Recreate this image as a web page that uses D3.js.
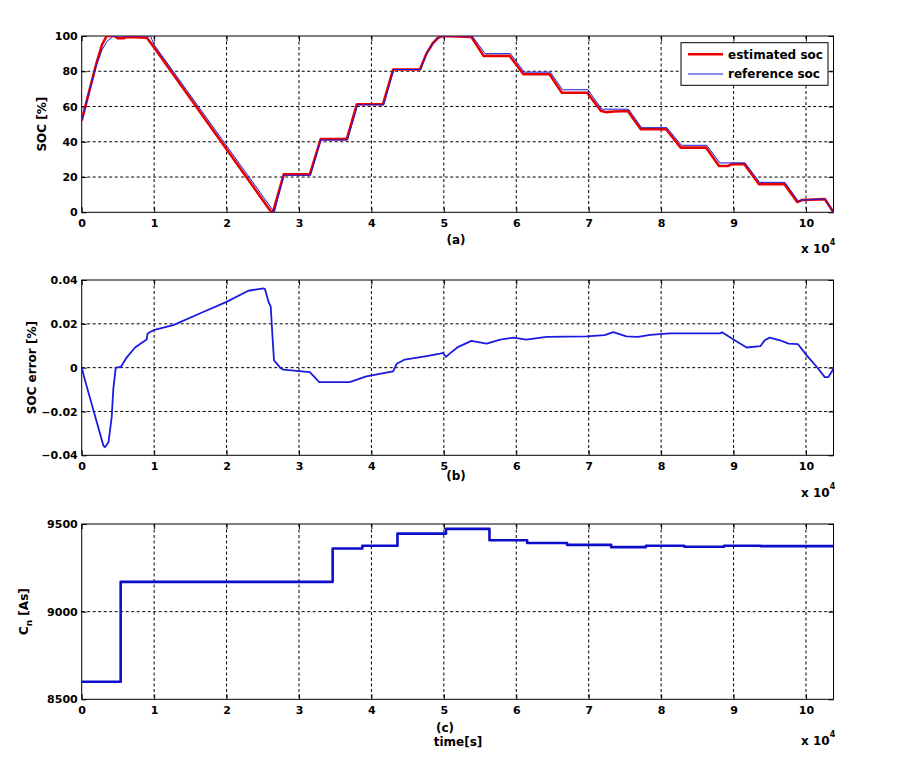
<!DOCTYPE html>
<html>
<head>
<meta charset="utf-8">
<script src="https://cdn.jsdelivr.net/npm/d3@7"></script>
<style>
  body { margin: 0; background: #fff; }
  text { font-family: "DejaVu Sans", sans-serif; font-weight: bold; fill: #000; }
</style>
</head>
<body>
<div id="chart"></div>
<script>
// time in units of 10^4 s
var x_ticks = [0, 1, 2, 3, 4, 5, 6, 7, 8, 9, 10];
var t_max = 10.38;

// (a) estimated soc (red)
var est_t = [0, 0.1, 0.2, 0.28, 0.345, 0.45, 0.5, 0.58, 0.62, 0.9, 1.0, 2.62, 2.64, 2.79, 3.15, 3.30, 3.66, 3.80, 4.16, 4.30, 4.67, 4.76, 4.85, 4.92, 4.98, 5.38, 5.55, 5.91, 6.10, 6.46, 6.63, 6.98, 7.17, 7.25, 7.35, 7.54, 7.72, 8.07, 8.27, 8.62, 8.80, 8.92, 8.98, 9.15, 9.35, 9.70, 9.88, 9.95, 10.26, 10.38];
var est_soc = [52, 68, 84, 95, 100, 100, 98.7, 98.7, 99.5, 99, 93.5, 0, 0, 21.5, 21.5, 41.5, 41.5, 61.3, 61.3, 81, 81, 90, 96, 99, 100, 99.5, 88.7, 88.7, 78.3, 78.3, 67.8, 67.8, 57.5, 56.8, 57.2, 57.5, 47.1, 47.1, 36.7, 36.7, 26.3, 26.3, 27.3, 27.3, 16, 16, 5.8, 7, 7.5, 0];

// (a) reference soc (blue)
var ref_t = [0, 0.1, 0.2, 0.28, 0.35, 0.44, 0.95, 1.0, 2.66, 2.79, 3.16, 3.30, 3.67, 3.81, 4.17, 4.31, 4.68, 4.76, 4.85, 4.92, 4.98, 5.39, 5.57, 5.92, 6.11, 6.47, 6.64, 6.99, 7.18, 7.55, 7.73, 8.08, 8.28, 8.63, 8.81, 9.16, 9.36, 9.71, 9.89, 9.95, 10.26, 10.38];
var ref_soc = [52, 68, 83, 92, 97, 100, 100, 95, 0, 21, 21, 41, 41, 61, 61, 81, 81, 90, 96, 99, 100, 100, 90, 90, 79.5, 79.5, 69.5, 69.5, 58.5, 58.5, 48, 48, 38, 38, 28, 28, 17, 17, 6.5, 7, 7.5, 0];
var soc_ticks = [0, 20, 40, 60, 80, 100];

// (b) soc error
var err_t = [0, 0.046, 0.30, 0.32, 0.37, 0.414, 0.437, 0.47, 0.54, 0.62, 0.736, 0.897, 0.91, 0.99, 1.264, 1.63, 2.0, 2.30, 2.51, 2.53, 2.58, 2.61, 2.64, 2.655, 2.74, 2.785, 3.15, 3.28, 3.70, 3.93, 4.30, 4.35, 4.46, 4.76, 4.95, 4.99, 5.03, 5.08, 5.20, 5.38, 5.59, 5.78, 5.96, 6.14, 6.42, 6.97, 7.22, 7.34, 7.52, 7.68, 7.85, 8.12, 8.81, 8.84, 9.0, 9.18, 9.37, 9.43, 9.50, 9.64, 9.76, 9.89, 10.01, 10.15, 10.26, 10.31, 10.38];
var err_val = [0, -0.0058, -0.0356, -0.0363, -0.034, -0.0226, -0.0096, 0, 0.0003, 0.0046, 0.0092, 0.0128, 0.0156, 0.0171, 0.0194, 0.0247, 0.030, 0.0351, 0.0362, 0.0359, 0.030, 0.0278, 0.011, 0.0034, 0, -0.0009, -0.002, -0.0066, -0.0066, -0.004, -0.0017, 0.0018, 0.0037, 0.0053, 0.0064, 0.0067, 0.0049, 0.0064, 0.0095, 0.0122, 0.011, 0.0128, 0.0137, 0.0128, 0.014, 0.0143, 0.0148, 0.0162, 0.0143, 0.014, 0.015, 0.0156, 0.0156, 0.0162, 0.0128, 0.0092, 0.0098, 0.0125, 0.0137, 0.0125, 0.011, 0.0107, 0.0056, 0.0003, -0.0043, -0.0043, -0.0005];
var err_ticks = [-0.04, -0.02, 0, 0.02, 0.04];

// (c) capacity Cn, step changes
var cn_t = [0, 0.538, 3.465, 3.875, 4.36, 5.03, 5.63, 6.15, 6.70, 7.31, 7.79, 8.32, 8.87, 9.37, 10.38];
var cn_val = [8600, 9170, 9360, 9376, 9445, 9472, 9407, 9392, 9381, 9368, 9376, 9370, 9376, 9374, 9374];
var cn_ticks = [8500, 9000, 9500];

var chart_width = 901;
var chart_height = 760;
var left = 81.7, right = 833.5;

var svg = d3.select('#chart')
  .append('svg')
  .attr('width', chart_width)
  .attr('height', chart_height)
  .style('background', '#fff');

var x_scale = d3.scaleLinear()
  .domain([0, t_max])
  .range([left, right]);

function zip(ts, vs) {
  return ts.map(function(t, i) { return [t, vs[i]]; });
}

function drawPanel(p) {
  var y_scale = d3.scaleLinear().domain(p.domain).range([p.bottom, p.top]);
  var g = svg.append('g');

  g.append('clipPath').attr('id', 'clip' + p.id)
    .append('rect')
    .attr('x', left).attr('y', p.top)
    .attr('width', right - left).attr('height', p.bottom - p.top);

  // grid
  g.selectAll('.gx').data(x_ticks.filter(function(d) { return d > 0; }))
    .enter().append('line')
    .attr('x1', function(d) { return x_scale(d); })
    .attr('x2', function(d) { return x_scale(d); })
    .attr('y1', p.top).attr('y2', p.bottom)
    .attr('stroke', '#000').attr('stroke-width', 1)
    .attr('stroke-dasharray', '3,2.5');
  g.selectAll('.gy').data(p.ticks.slice(1, -1))
    .enter().append('line')
    .attr('y1', function(d) { return y_scale(d); })
    .attr('y2', function(d) { return y_scale(d); })
    .attr('x1', left).attr('x2', right)
    .attr('stroke', '#000').attr('stroke-width', 1)
    .attr('stroke-dasharray', '3,2.5');

  // axes
  var xa = g.append('g').attr('transform', 'translate(0,' + p.bottom + ')')
    .call(d3.axisBottom(x_scale).tickValues(x_ticks).tickSize(-5).tickSizeOuter(0).tickPadding(7));
  g.append('g').attr('transform', 'translate(0,' + p.top + ')')
    .call(d3.axisTop(x_scale).tickValues(x_ticks).tickSize(-5).tickSizeOuter(0).tickFormat(''));
  var ya = g.append('g').attr('transform', 'translate(' + left + ',0)')
    .call(d3.axisLeft(y_scale).tickValues(p.ticks).tickSize(-5).tickSizeOuter(0).tickPadding(4)
      .tickFormat(p.fmt));
  g.append('g').attr('transform', 'translate(' + right + ',0)')
    .call(d3.axisRight(y_scale).tickValues(p.ticks).tickSize(-5).tickSizeOuter(0).tickFormat(''));
  g.selectAll('.domain').remove();
  g.selectAll('.tick line').attr('stroke', '#000');
  g.selectAll('.tick text').style('font-size', '11px').style('font-family', 'DejaVu Sans').style('font-weight', 'bold');

  g.append('rect')
    .attr('x', left).attr('y', p.top)
    .attr('width', right - left).attr('height', p.bottom - p.top)
    .attr('fill', 'none').attr('stroke', '#000').attr('stroke-width', 1);

  // lines
  p.series.forEach(function(s) {
    var line = d3.line()
      .x(function(d) { return x_scale(d[0]); })
      .y(function(d) { return y_scale(d[1]); });
    if (s.step) line.curve(d3.curveStepAfter);
    g.append('path')
      .datum(s.data)
      .attr('clip-path', 'url(#clip' + p.id + ')')
      .attr('d', line)
      .attr('fill', 'none')
      .attr('stroke', s.color)
      .attr('stroke-width', s.width)
      .attr('stroke-linejoin', 'round');
  });

  // y label
  var yl = g.append('text')
    .attr('transform', 'translate(' + p.ylabx + ',' + (p.top + p.bottom) / 2 + ') rotate(-90)')
    .attr('text-anchor', 'middle')
    .style('font-size', '12px');
  yl.append('tspan').text(p.ylabel);
  if (p.ysub) {
    yl.append('tspan').attr('dy', 4).style('font-size', '9px').text(p.ysub);
    yl.append('tspan').attr('dy', -4).text(p.ylabel2);
  }

  // panel caption
  g.append('text').attr('x', p.capx).attr('y', p.capy)
    .attr('text-anchor', 'middle').style('font-size', '12px').text(p.caption);

  // x 10^4
  var ex = g.append('text').attr('x', 801).attr('y', p.expy).style('font-size', '12px');
  ex.append('tspan').text('x 10');
  ex.append('tspan').attr('dy', -8).style('font-size', '8px').text('4');
}

drawPanel({
  id: 'a', top: 36, bottom: 212.3, domain: [0, 100], ticks: soc_ticks,
  fmt: d3.format('d'),
  ylabel: 'SOC [%]', ylabx: 46,
  caption: '(a)', capx: 456, capy: 244, expy: 253,
  series: [
    { data: zip(est_t, est_soc), color: '#e80000', width: 2.6 },
    { data: zip(ref_t, ref_soc), color: '#1a1ae0', width: 1 }
  ]
});

drawPanel({
  id: 'b', top: 280, bottom: 455.3, domain: [-0.04, 0.04], ticks: err_ticks,
  fmt: function(d) { return d === 0 ? '0' : d3.format('.2f')(d).replace('0.', '0.').replace('-0.', '-0.'); },
  ylabel: 'SOC error [%]', ylabx: 35.5,
  caption: '(b)', capx: 456, capy: 480, expy: 497,
  series: [
    { data: zip(err_t, err_val), color: '#1a1ae0', width: 1.8 }
  ]
});

drawPanel({
  id: 'c', top: 524, bottom: 699.3, domain: [8500, 9500], ticks: cn_ticks,
  fmt: d3.format('d'),
  ylabel: 'C', ysub: 'n', ylabel2: ' [As]', ylabx: 28,
  caption: '(c)', capx: 445, capy: 731.5, expy: 745,
  series: [
    { data: zip(cn_t, cn_val), color: '#0d0dcc', width: 2.6, step: true }
  ]
});

// time label
svg.append('text').attr('x', 458).attr('y', 745.5)
  .attr('text-anchor', 'middle').style('font-size', '12px').text('time[s]');

// legend
var legend = svg.append('g');
legend.append('rect')
  .attr('x', 681).attr('y', 42.7).attr('width', 147).attr('height', 42.6)
  .attr('fill', '#fff').attr('stroke', '#000').attr('stroke-width', 1);
var legend_items = [
  { label: 'estimated soc', color: '#e80000', width: 2.6, y: 54.3 },
  { label: 'reference soc', color: '#1a1ae0', width: 1, y: 74 }
];
legend_items.forEach(function(d) {
  legend.append('line')
    .attr('x1', 688).attr('x2', 723).attr('y1', d.y).attr('y2', d.y)
    .attr('stroke', d.color).attr('stroke-width', d.width);
  legend.append('text').attr('x', 728).attr('y', d.y + 4.3)
    .style('font-size', '12px').text(d.label);
});
</script>
</body>
</html>
